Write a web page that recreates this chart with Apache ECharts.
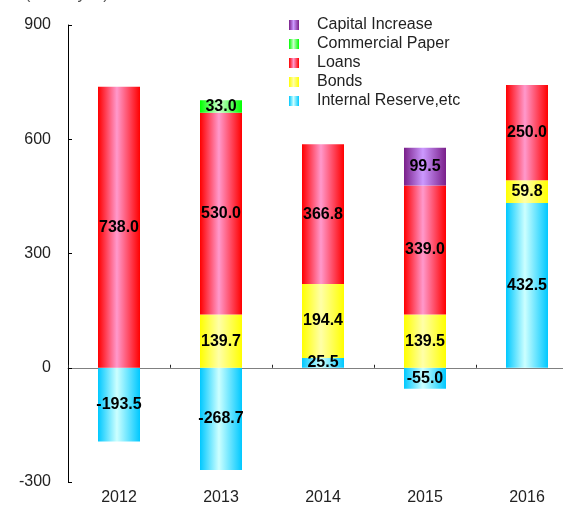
<!DOCTYPE html>
<html>
<head>
<meta charset="utf-8">
<script src="https://cdn.jsdelivr.net/npm/echarts@6/dist/echarts.min.js"></script>
<style>html,body{margin:0;padding:0;background:#fff}#c{width:563px;height:510px}</style>
</head>
<body>
<div id="c"></div>
<script>
var categories = ['2012', '2013', '2014', '2015', '2016'];
var internalReserve = [-193.5, -268.7, 25.5, -55.0, 432.5];
var bonds = [null, 139.7, 194.4, 139.5, 59.8];
var loans = [738.0, 530.0, 366.8, 339.0, 250.0];
var commercialPaper = [null, 33.0, null, null, null];
var capitalIncrease = [null, null, null, 99.5, null];
var yTicks = { min: -300, max: 900, interval: 300 };
var legendOrder = ['Capital Increase', 'Commercial Paper', 'Loans', 'Bonds', 'Internal Reserve,etc'];

function grad(edge, mid) {
  return new echarts.graphic.LinearGradient(0, 0, 1, 0, [
    { offset: 0, color: edge },
    { offset: 0.45, color: mid },
    { offset: 1, color: edge }
  ]);
}
var font = '"Liberation Sans", Arial, sans-serif';
function mk(name, data, color) {
  return {
    name: name, type: 'bar', stack: 'total', data: data,
    xAxisIndex: 0, barWidth: 42,
    itemStyle: { color: color },
    label: {
      show: true, position: 'inside', color: '#000', fontWeight: 'bold',
      fontSize: 16, fontFamily: font,
      formatter: function (p) { return p.value == null ? '' : Number(p.value).toFixed(1); }
    }
  };
}
var chart = echarts.init(document.getElementById('c'), null, { renderer: 'canvas' });
chart.setOption({
  animation: false,
  backgroundColor: '#fff',
  grid: { left: 68, width: 510, top: 25, height: 457, containLabel: false, outerBoundsMode: 'none' },
  graphic: [{
    type: 'text', left: 25, top: -13,
    style: { text: '(Billion yen)', fill: '#555', font: '16px ' + font }
  }],
  legend: {
    orient: 'vertical', left: 284, top: 12,
    data: legendOrder,
    itemWidth: 10, itemHeight: 10, itemGap: 3,
    icon: 'rect',
    textStyle: { fontSize: 16, fontFamily: font, color: '#222', padding: [0, 0, 0, 13], lineHeight: 14 }
  },
  xAxis: [{
    type: 'category', data: categories,
    axisLine: { onZero: true, lineStyle: { color: '#808080', width: 1 } },
    axisTick: { show: true, inside: true, length: 3, lineStyle: { color: '#222' } },
    axisLabel: { show: false }
  }, {
    type: 'category', data: categories, position: 'bottom',
    axisLine: { show: false, onZero: false },
    axisTick: { show: false },
    axisLabel: { show: true, fontSize: 16, fontFamily: font, color: '#222', margin: 8 }
  }],
  yAxis: {
    type: 'value', min: yTicks.min, max: yTicks.max, interval: yTicks.interval,
    splitLine: { show: false },
    axisLine: { show: true, lineStyle: { color: '#000', width: 1 } },
    axisTick: { show: true, inside: true, length: 4, lineStyle: { color: '#000' } },
    axisLabel: { fontSize: 16, fontFamily: font, color: '#222', margin: 17 }
  },
  series: [
    mk('Internal Reserve,etc', internalReserve, grad('#00c8ff', '#ccffff')),
    mk('Bonds', bonds, grad('#ffff00', '#ffffa8')),
    mk('Loans', loans, grad('#ff0000', '#ff99cc')),
    mk('Commercial Paper', commercialPaper, grad('#00ff00', '#ccffcc')),
    mk('Capital Increase', capitalIncrease, grad('#7a1f8a', '#cc99ff'))
  ]
});
</script>
</body>
</html>
